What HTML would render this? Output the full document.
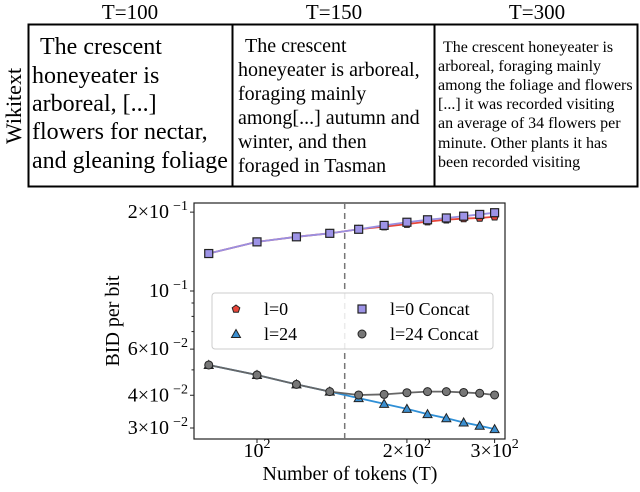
<!DOCTYPE html>
<html><head><meta charset="utf-8"><style>
html,body{margin:0;padding:0;background:#fff}
svg, svg text{font-family:"Liberation Serif","DejaVu Serif",serif}
</style></head><body>
<svg id="fig" width="640" height="487" viewBox="0 0 640 487" xmlns="http://www.w3.org/2000/svg">
<g fill="#000" font-family="Liberation Serif, serif">
  <text x="130" y="19" font-size="21" text-anchor="middle">T=100</text>
  <text x="334" y="19" font-size="21" text-anchor="middle">T=150</text>
  <text x="537" y="19" font-size="21" text-anchor="middle">T=300</text>
  <text transform="translate(21,106) rotate(-90)" font-size="22" text-anchor="middle">Wikitext</text>
  <rect x="28.5" y="24.5" width="609" height="162" fill="none" stroke="#000" stroke-width="2"/>
  <line x1="232.5" y1="24" x2="232.5" y2="187" stroke="#000" stroke-width="2"/>
  <line x1="434.5" y1="24" x2="434.5" y2="187" stroke="#000" stroke-width="2"/>
  <g font-size="24" font-family="Liberation Serif, serif">
    <text x="40" y="54">The crescent</text>
    <text x="32" y="83">honeyeater is</text>
    <text x="32" y="111">arboreal, [...]</text>
    <text x="32" y="139">flowers for nectar,</text>
    <text x="32" y="168">and gleaning foliage</text>
  </g>
  <g font-size="20" font-family="Liberation Serif, serif">
    <text x="245" y="52">The crescent</text>
    <text x="238" y="76">honeyeater is arboreal,</text>
    <text x="238" y="100">foraging mainly</text>
    <text x="238" y="124">among[...] autumn and</text>
    <text x="238" y="148">winter, and then</text>
    <text x="238" y="172">foraged in Tasman</text>
  </g>
  <g font-size="16" font-family="Liberation Serif, serif">
    <text x="443" y="52">The crescent honeyeater is</text>
    <text x="438" y="71">arboreal, foraging mainly</text>
    <text x="438" y="90">among the foliage and flowers</text>
    <text x="438" y="109">[...]  it was recorded visiting</text>
    <text x="438" y="128">an average of 34 flowers per</text>
    <text x="438" y="148">minute. Other plants it has</text>
    <text x="438" y="167">been recorded visiting</text>
  </g>
</g>
<g id="chart" font-family="Liberation Serif, serif"></g>
</svg>
<script>
const tokens=[80,100,120,140,160,180,200,220,240,260,280,300];
const l0=[0.139,0.154,0.161,0.166,0.172,0.176,0.180,0.184,0.187,0.189,0.190,0.192];
const l0Concat=[0.139,0.154,0.161,0.166,0.172,0.178,0.183,0.187,0.190,0.193,0.196,0.199];
const l24=[0.0522,0.0478,0.0440,0.0413,0.0390,0.0371,0.0355,0.0339,0.0327,0.0315,0.0306,0.0297];
const l24Concat=[0.0522,0.0478,0.0440,0.0413,0.0401,0.0403,0.0409,0.0413,0.0413,0.0410,0.0407,0.0401];
const xTicks=[100,200,300];
const xTickLabels=["10","2×10","3×10"];
const yTicks=[0.2,0.1,0.06,0.04,0.03];
const yTickLabels=[["2×10","−1"],["10","−1"],["6×10","−2"],["4×10","−2"],["3×10","−2"]];
const minorY=[0.09,0.08,0.07,0.05];
const dividerT=150;

const NS="http://www.w3.org/2000/svg";
const g=document.getElementById('chart');
const L=194,R=505,T=203,B=439;
const X=v=>257+498*Math.log10(v/100);
const Y=v=>291-262*Math.log10(v/0.1);
function el(tag,attrs,parent){const e=document.createElementNS(NS,tag);for(const k in attrs)e.setAttribute(k,attrs[k]);(parent||g).appendChild(e);return e;}

const frame=el('rect',{x:L,y:T,width:R-L,height:B-T,fill:'none',stroke:'#222','stroke-width':1.2});



xTicks.forEach((t,i)=>{
  el('line',{x1:X(t),x2:X(t),y1:B,y2:B+4,stroke:'#222'});
  const tx=el('text',{x:X(t),y:B+18,'font-size':20,'text-anchor':'middle'});
  
  
  tx.textContent=xTickLabels[i];
  const s=el('tspan',{dy:-9,'font-size':14},tx);s.textContent='2';
});
yTicks.forEach((t,i)=>{
  el('line',{x1:L-4,x2:L,y1:Y(t),y2:Y(t),stroke:'#222'});
  const tx=el('text',{x:L-25,y:Y(t)+6,'font-size':20,'text-anchor':'end'});
  
  
  tx.textContent=yTickLabels[i][0];
  const s=el('text',{x:L-6,y:Y(t)-2,'font-size':14,'text-anchor':'end'});
  s.textContent=yTickLabels[i][1];
});
minorY.forEach(t=>el('line',{x1:L-2.5,x2:L,y1:Y(t),y2:Y(t),stroke:'#222'}));

const dl=el('line',{x1:X(dividerT),x2:X(dividerT),y1:T,y2:B,stroke:'#777','stroke-width':1.5,'stroke-dasharray':'6,4'});



const yl=el('text',{transform:'translate(119,321) rotate(-90)','font-size':20,'text-anchor':'middle'});


yl.textContent='BID per bit';
const xl=el('text',{x:350,y:480,'font-size':20,'text-anchor':'middle'});


xl.textContent='Number of tokens (T)';

function marker(type,x,y,fill,parent){
  if(type==='circle') return el('circle',{cx:x,cy:y,r:4,fill,stroke:'#222','stroke-width':1},parent);
  if(type==='square') return el('rect',{x:x-4,y:y-4,width:8,height:8,fill,stroke:'#222','stroke-width':1.2},parent);
  if(type==='tri') return el('polygon',{points:`${x},${y-4.5} ${x+4.5},${y+3.5} ${x-4.5},${y+3.5}`,fill,stroke:'#222','stroke-width':1},parent);
  if(type==='pent'){let p=[];for(let k=0;k<5;k++){const a=-Math.PI/2+k*2*Math.PI/5;p.push((x+4*Math.cos(a))+','+(y+4*Math.sin(a)));}return el('polygon',{points:p.join(' '),fill,stroke:'#222','stroke-width':1},parent);}
}
const series=[
  {name:'series-l0',vals:l0,color:'#e8463a',fill:'#e8463a',m:'pent'},
  {name:'series-l24',vals:l24,color:'#2f8fd6',fill:'#3b8fd0',m:'tri'},
  {name:'series-l0-concat',vals:l0Concat,color:'#9a8fe0',fill:'#9d93e6',m:'square'},
  {name:'series-l24-concat',vals:l24Concat,color:'#666',fill:'#777',m:'circle'}
];
series.forEach(s=>{
  const sg=el('g',{});
  
  
  el('polyline',{points:tokens.map((t,i)=>X(t)+','+Y(s.vals[i])).join(' '),fill:'none',stroke:s.color,'stroke-width':1.8},sg);
  tokens.forEach((t,i)=>{
    const m=marker(s.m,X(t),Y(s.vals[i]),s.fill,sg);
    
    
  });
});

const lg=el('g',{});


el('rect',{x:212,y:293,width:281,height:56,rx:3,fill:'rgba(255,255,255,0.85)',stroke:'#ccc'},lg);
const entries=[['pent','#e8463a','l=0',236,309],['square','#9d93e6','l=0 Concat',362,309],['tri','#3b8fd0','l=24',236,334],['circle','#777','l=24 Concat',362,334]];
entries.forEach(e=>{
  const eg=el('g',{},lg);
  
  
  marker(e[0],e[3],e[4],e[1],eg);
  const t=el('text',{x:e[3]+28,y:e[4]+6,'font-size':18},eg);t.textContent=e[2];
});
</script>
</body></html>
